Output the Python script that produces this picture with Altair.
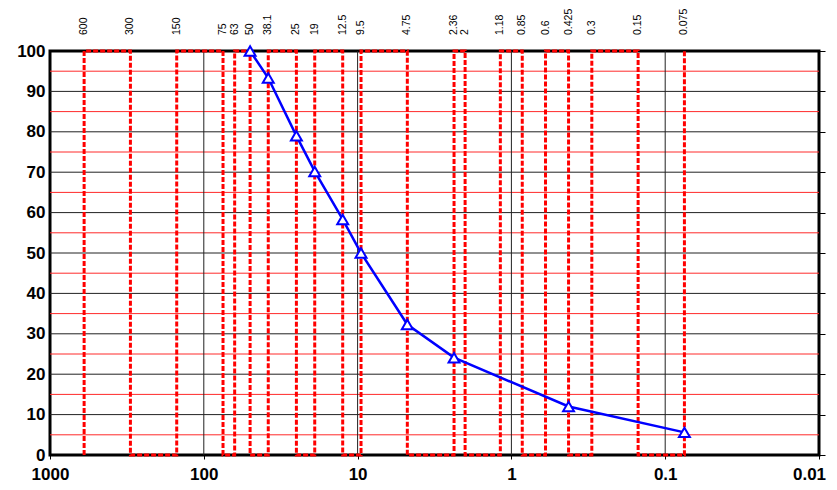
import altair as alt
import pandas as pd

# Sieve sizes (mm) shown as red dashed lines / top labels
sieve_sizes = [600, 300, 150, 75, 63, 50, 38.1, 25, 19, 12.5, 9.5, 4.75,
               2.36, 2, 1.18, 0.85, 0.6, 0.425, 0.3, 0.15, 0.075]
sieve_labels = ["600", "300", "150", "75", "63", "50", "38.1", "25", "19", "12.5", "9.5", "4.75",
                "2.36", "2", "1.18", "0.85", "0.6", "0.425", "0.3", "0.15", "0.075"]

# Grading curve (size mm, % passing)
curve_sizes = [50, 38.1, 25, 19, 12.5, 9.5, 4.75, 2.36, 0.425, 0.075]
curve_passing = [100, 93.3, 79.0, 70.2, 58.3, 50.0, 32.3, 24.1, 12.0, 5.6]

x_ticks = [1000, 100, 10, 1, 0.1, 0.01]
y_ticks = [0, 10, 20, 30, 40, 50, 60, 70, 80, 90, 100]
y_minor = [5, 15, 25, 35, 45, 55, 65, 75, 85, 95]
x_major_grid = [100, 10, 1, 0.1]

# zig-zag path for the red dashed sieve lines
zz_rows = []
k = 0
for i, s in enumerate(sieve_sizes):
    ys = (0, 100) if i % 2 == 0 else (100, 0)
    for yv in ys:
        zz_rows.append({"size": s, "y": yv, "ord": k})
        k += 1
zz = pd.DataFrame(zz_rows)

curve = pd.DataFrame({"size": curve_sizes, "passing": curve_passing})
labels = pd.DataFrame({"size": sieve_sizes, "label": sieve_labels})

xscale = alt.Scale(type="log", domain=[0.01, 1000], reverse=True, nice=False)
yscale = alt.Scale(domain=[0, 100], nice=False, zero=False)

FONT_AX = "Liberation Sans Narrow, Liberation Sans, Arial"

x_axis = alt.Axis(values=x_ticks, labelExpr="'' + datum.value", title=None,
                  grid=False, domain=False, tickSize=4, tickColor="black",
                  labelFont=FONT_AX, labelFontSize=17, labelFontWeight="bold",
                  labelColor="black", labelPadding=7, labelFlush=False,
                  labelOverlap=False,
                  labelOffset=alt.expr("datum.value < 0.02 ? -10 : 0"))
y_axis = alt.Axis(values=y_ticks, title=None, grid=False, domain=False, ticks=False,
                  labelFont=FONT_AX, labelFontSize=17, labelFontWeight="bold",
                  labelColor="black", labelPadding=5)

hgrid_black = alt.Chart(pd.DataFrame({"v": y_ticks[1:-1]})).mark_rule(
    color="#222", strokeWidth=1).encode(y=alt.Y("v:Q", scale=yscale, axis=None))
hgrid_red = alt.Chart(pd.DataFrame({"v": y_minor})).mark_rule(
    color="#ff2a2a", strokeWidth=1).encode(y=alt.Y("v:Q", scale=yscale, axis=None))
vgrid = alt.Chart(pd.DataFrame({"v": x_major_grid})).mark_rule(
    color="#222", strokeWidth=1).encode(x=alt.X("v:Q", scale=xscale, axis=None))

right_axis = alt.Chart(pd.DataFrame({"v": y_ticks})).mark_rule(opacity=0).encode(
    y=alt.Y("v:Q", scale=yscale,
            axis=alt.Axis(orient="right", values=y_ticks, labels=False, title=None,
                          domain=False, grid=False, tickSize=6, tickColor="black",
                          tickWidth=1)))

zigzag = alt.Chart(zz).mark_line(color="#ff0000", strokeWidth=3,
                                 strokeDash=[5, 2], strokeCap="butt").encode(
    x=alt.X("size:Q", scale=xscale, axis=None),
    y=alt.Y("y:Q", scale=yscale, axis=None),
    order="ord:Q")

line = alt.Chart(curve).mark_line(color="#0000ff", strokeWidth=2.5).encode(
    x=alt.X("size:Q", scale=xscale, axis=x_axis),
    y=alt.Y("passing:Q", scale=yscale, axis=y_axis))

pts = alt.Chart(curve).mark_point(shape="triangle-up", filled=True, fill="white",
                                  stroke="#0000ff", strokeWidth=2, size=120,
                                  opacity=1).encode(
    x=alt.X("size:Q", scale=xscale, axis=None),
    y=alt.Y("passing:Q", scale=yscale, axis=None))

top_text = alt.Chart(labels).mark_text(angle=270, align="left", baseline="middle",
                                       font="Liberation Sans, Arial", fontSize=10.5,
                                       color="black").encode(
    x=alt.X("size:Q", scale=xscale, axis=None),
    y=alt.value(-16),
    text="label:N")

chart = alt.layer(hgrid_black, hgrid_red, vgrid, right_axis, zigzag, line, pts,
                  top_text).resolve_axis(x="independent", y="independent").properties(
    width=769, height=404,
    autosize=alt.AutoSizeParams(type="none"),
    padding={"left": 42, "top": 43, "right": 10, "bottom": 27},
    background="white",
).configure_view(stroke="black", strokeWidth=3)

chart.save("out.html", embed_options={"renderer": "svg", "actions": False})
